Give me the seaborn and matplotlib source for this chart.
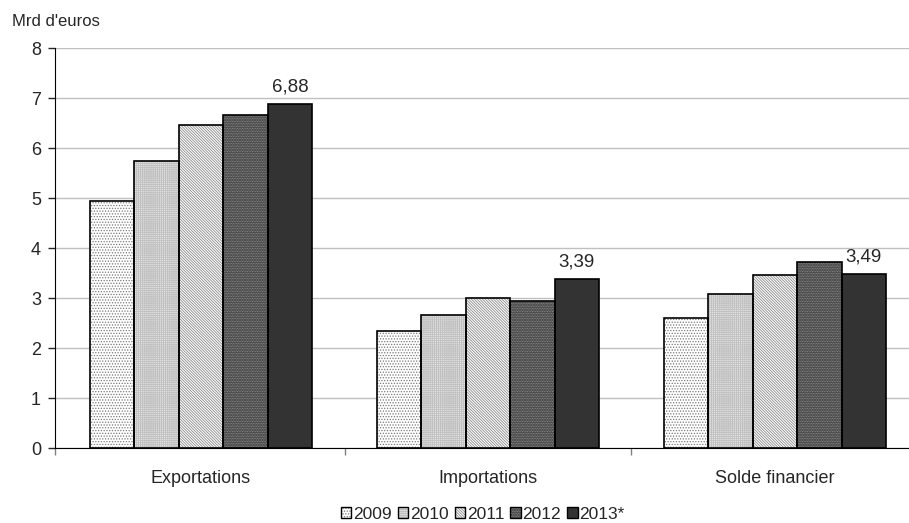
import pandas as pd
import seaborn as sns
import matplotlib.pyplot as plt
from matplotlib.patches import Patch, Rectangle

categories = ['Exportations', 'Importations', 'Solde financier']
years = ['2009', '2010', '2011', '2012', '2013*']
v2009 = [4.94, 2.35, 2.60]
v2010 = [5.74, 2.66, 3.08]
v2011 = [6.46, 3.00, 3.46]
v2012 = [6.66, 2.94, 3.72]
v2013 = [6.88, 3.39, 3.49]

rows = []
for yr, vals in zip(years, [v2009, v2010, v2011, v2012, v2013]):
    for c, v in zip(categories, vals):
        rows.append({'cat': c, 'year': yr, 'val': v})
df = pd.DataFrame(rows)

sns.set_style('white')
plt.rcParams['font.family'] = ['Liberation Sans', 'DejaVu Sans']
plt.rcParams['hatch.linewidth'] = 0.6

# fill colour, hatch and hatch colour for each year
fills = ['#ffffff', '#e4e4e4', '#ffffff', '#3c3c3c', '#333333']
hatches = ['......', '++++++++', '\\' * 12, '.' * 10, '']
hcolors = ['#7a7a7a', '#c0c0c0', '#8a8a8a', '#9a9a9a', '#333333']

fig = plt.figure(figsize=(9.09, 5.23), dpi=100)
ax = fig.add_axes([0.0605, 0.1434, 0.947, 0.7648])
sns.barplot(data=df, x='cat', y='val', hue='year', palette=fills, width=0.774,
            ax=ax, legend=False, saturation=1)

for i, cont in enumerate(ax.containers):
    for p in cont:
        p.set_hatch(hatches[i])
        p.set_edgecolor(hcolors[i])
        p.set_linewidth(0)
        ax.add_patch(Rectangle(p.get_xy(), p.get_width(), p.get_height(),
                               fill=False, edgecolor='black', linewidth=1.2, zorder=3))

ax.bar_label(ax.containers[-1], labels=[f'{v:.2f}'.replace('.', ',') for v in v2013],
             padding=6, fontsize=13.5)

ax.set_ylim(0, 8)
ax.set_yticks(range(0, 9))
ax.set_xlim(-0.509, 2.491)
ax.set_xticks([-0.509, 0.5, 1.5], minor=True)
ax.yaxis.grid(True, color='#c0c0c0', linewidth=1)
ax.set_axisbelow(True)
for s in ['top', 'right']:
    ax.spines[s].set_visible(False)
ax.spines['left'].set_color('black')
ax.spines['bottom'].set_color('black')
ax.spines['bottom'].set_zorder(4)
ax.tick_params(axis='y', left=True, length=5, width=1, labelsize=13, pad=5)
ax.tick_params(axis='x', which='major', bottom=False, labelsize=13, pad=12)
ax.tick_params(axis='x', which='minor', bottom=True, length=5, width=1, color='#808080')
ax.set_xlabel('')
ax.set_ylabel('')
fig.text(0.013, 0.958, "Mrd d'euros", fontsize=12, va='center')

handles = [(Patch(facecolor=f, edgecolor=hc, hatch=h, linewidth=0),
            Patch(fill=False, edgecolor='black', linewidth=1))
           for f, h, hc in zip(fills, hatches, hcolors)]
ax.legend(handles, years, loc='center', ncol=5, frameon=False, fontsize=12.5,
          handlelength=0.6, handleheight=0.6, handletextpad=0.1, columnspacing=0.35,
          bbox_to_anchor=(0.497, -0.165))

fig.savefig('out.png', dpi=100)
